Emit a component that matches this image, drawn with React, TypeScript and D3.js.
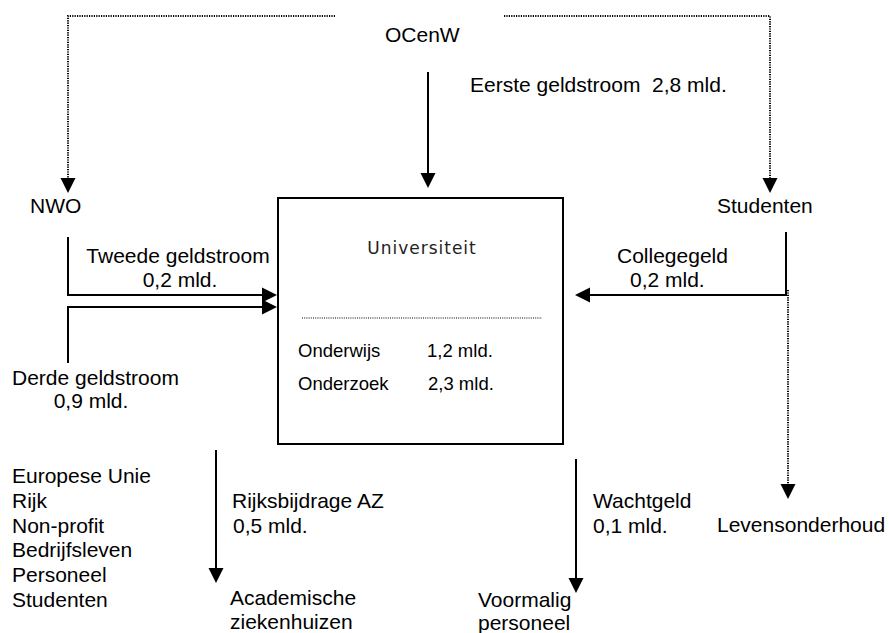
import React from "react";
import * as d3 from "d3";

// funding flows (billions of guilders)
const sourceNames = ["OCenW", "NWO", "Studenten"];
const flowNames = [
  "Eerste geldstroom",
  "Tweede geldstroom",
  "Derde geldstroom",
  "Collegegeld",
  "Rijksbijdrage AZ",
  "Wachtgeld",
];
const flowValues = [2.8, 0.2, 0.9, 0.2, 0.5, 0.1];
const spendNames = ["Onderwijs", "Onderzoek"];
const spendValues = [1.2, 2.3];
const derdeSources = ["Europese Unie", "Rijk", "Non-profit", "Bedrijfsleven", "Personeel", "Studenten"];
const targetNames = [["Academische", "ziekenhuizen"], ["Voormalig", "personeel"], ["Levensonderhoud"]];
const centerName = "Universiteit";

const nl = d3.formatLocale({ decimal: ",", thousands: ".", grouping: [3], currency: ["€", ""] });
const fmt = (v: number) => `${nl.format(".1f")(v)} mld.`;

const W = 889;
const H = 633;
const FONT = "'Liberation Sans', Arial, sans-serif";
const HEAD = 15;

const line = d3.line<[number, number]>();

// polyline ending in an arrowhead; the last point is the tip
function Arrow({ pts, dotted }: { pts: [number, number][]; dotted?: boolean }) {
  const n = pts.length;
  const [tx, ty] = pts[n - 1];
  const [px, py] = pts[n - 2];
  const len = Math.hypot(tx - px, ty - py);
  const ux = (tx - px) / len;
  const uy = (ty - py) / len;
  const bx = tx - ux * HEAD;
  const by = ty - uy * HEAD;
  const shaft = [...pts.slice(0, n - 1), [bx, by]] as [number, number][];
  const hw = HEAD / 2;
  const head = [
    [tx, ty],
    [bx - uy * hw, by + ux * hw],
    [bx + uy * hw, by - ux * hw],
  ];
  return (
    <g>
      <path
        d={line(shaft) || ""}
        fill="none"
        stroke="#000"
        strokeWidth={dotted ? 2 : 2}
        strokeDasharray={dotted ? "1.2 1.2" : undefined}
      />
      <polygon points={head.map((p) => p.join(",")).join(" ")} fill="#000" />
    </g>
  );
}

function Label({ x, y, children, anchor = "start", size = 21 }: any) {
  return (
    <text
      x={x}
      y={y}
      fontFamily={FONT}
      fontSize={size}
      textAnchor={anchor}
      fill="#000"
      style={{ whiteSpace: "pre" }}
    >
      {children}
    </text>
  );
}

export default function App() {
  const listY = d3.scaleLinear().domain([0, derdeSources.length - 1]).range([483, 607]);
  return (
    <svg width={W} height={H} style={{ position: "absolute", left: 0, top: 0, background: "#fff" }}>
      {/* university box */}
      <rect x={278} y={198} width={285} height={246} fill="none" stroke="#000" strokeWidth={2} />
      <text
        x={422}
        y={254}
        fontFamily="'DejaVu Sans', sans-serif"
        fontSize={17}
        letterSpacing={1}
        textAnchor="middle"
        fill="#222"
      >
        {centerName}
      </text>
      <line x1={302} x2={542} y1={318} y2={318} stroke="#000" strokeWidth={1.2} strokeDasharray="1 1.2" />
      {spendNames.map((s, i) => (
        <g key={s}>
          <Label x={298} y={357 + i * 33} size={18.5}>{s}</Label>
          <Label x={427 + i} y={357 + i * 33} size={18.5}>{fmt(spendValues[i])}</Label>
        </g>
      ))}

      {/* sources */}
      <Label x={385} y={42}>{sourceNames[0]}</Label>
      <Label x={30} y={213}>{sourceNames[1]}</Label>
      <Label x={717} y={213}>{sourceNames[2]}</Label>

      {/* dotted ministry links */}
      <Arrow dotted pts={[[335, 16], [68, 16], [68, 193]]} />
      <Arrow dotted pts={[[504, 16], [770, 16], [770, 193]]} />

      {/* eerste geldstroom */}
      <Arrow pts={[[428, 72], [428, 188]]} />
      <Label x={470} y={92}>{`${flowNames[0]}  ${fmt(flowValues[0])}`}</Label>

      {/* tweede / derde */}
      <Arrow pts={[[68, 237], [68, 295], [277, 295]]} />
      <Arrow pts={[[68, 363], [68, 307], [277, 307]]} />
      <Label x={178} y={263} anchor="middle">{flowNames[1]}</Label>
      <Label x={180} y={287} anchor="middle">{fmt(flowValues[1])}</Label>
      <Label x={12} y={385}>{flowNames[2]}</Label>
      <Label x={91} y={408} anchor="middle">{fmt(flowValues[2])}</Label>

      {/* collegegeld */}
      <Arrow pts={[[786, 232], [786, 295], [575, 295]]} />
      <Arrow dotted pts={[[788, 290], [788, 499]]} />
      <Label x={617} y={263}>{flowNames[3]}</Label>
      <Label x={630} y={287}>{fmt(flowValues[3])}</Label>

      {/* derde geldstroom sources */}
      {derdeSources.map((s, i) => (
        <Label key={i} x={12} y={listY(i)}>{s}</Label>
      ))}

      {/* outflows */}
      <Arrow pts={[[216, 450], [216, 583]]} />
      <Label x={232} y={508}>{flowNames[4]}</Label>
      <Label x={233} y={533}>{fmt(flowValues[4])}</Label>
      <Arrow pts={[[576, 459], [576, 593]]} />
      <Label x={593} y={508}>{flowNames[5]}</Label>
      <Label x={593} y={533}>{fmt(flowValues[5])}</Label>

      {targetNames[0].map((t, i) => (
        <Label key={t} x={230} y={605 + i * 24}>{t}</Label>
      ))}
      {targetNames[1].map((t, i) => (
        <Label key={t} x={478} y={607 + i * 23}>{t}</Label>
      ))}
      <Label x={717} y={532}>{targetNames[2][0]}</Label>
    </svg>
  );
}
